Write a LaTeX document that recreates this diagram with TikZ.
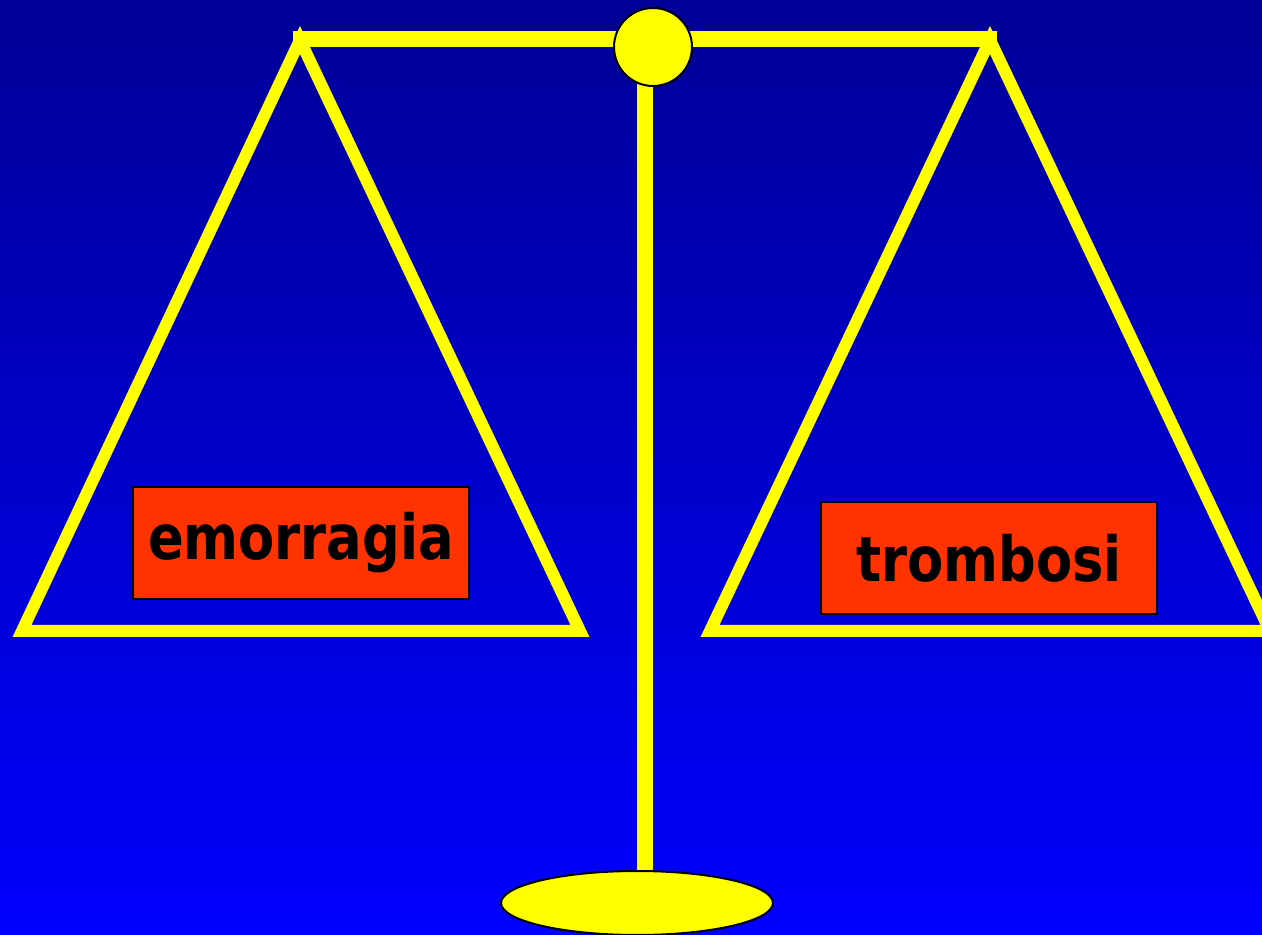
\documentclass[tikz,border=0pt]{standalone}
\usepackage{fontspec}
\usepackage{tikz}
\usetikzlibrary{positioning}
\newfontfamily\labelfont{DejaVu Sans}
\definecolor{skytop}{RGB}{0,0,150}
\definecolor{skybottom}{RGB}{0,0,255}
\definecolor{brass}{HTML}{FFFF00}
\definecolor{panlabel}{HTML}{FF3300}
\newcommand{\tallword}[1]{\scalebox{1}[1.18]{#1}}

\begin{document}
\begin{tikzpicture}[x=0.02cm, y=-0.02cm,
    arm/.style={brass, line width=0.24cm, line join=miter},
    rim/.style={fill=brass, draw=black, line width=0.04cm},
    weightbox/.style={draw=black, line width=0.04cm, fill=panlabel, minimum width=6.72cm, minimum height=2.24cm,
      inner sep=0pt, font=\labelfont\bfseries\fontsize{30}{36}\selectfont}]
  \useasboundingbox (0,0) rectangle (1262,935);
  \shade[top color=skytop, bottom color=skybottom] (0,0) rectangle (1262,935);
  % pans
  \draw[arm] (300,40) -- (22,631) -- (580,631) -- cycle;
  \draw[arm] (990,40) -- (710,631) -- (1270,631) -- cycle;
  % beam and pole
  \draw[brass, line width=0.32cm] (293,39) -- (997,39);
  \draw[brass, line width=0.32cm] (645,80) -- (645,880);
  \filldraw[rim] (653,47) circle (0.78cm);
  \filldraw[rim] (637,903) ellipse (2.72cm and 0.64cm);
  % labels
  \node[weightbox] (bleed) at (301,543) {\raisebox{-0.08cm}{\tallword{emorragia}}};
  \node[weightbox] (clot) at (989,558) {\raisebox{-0.08cm}{\tallword{trombosi}}};
\end{tikzpicture}
\end{document}
